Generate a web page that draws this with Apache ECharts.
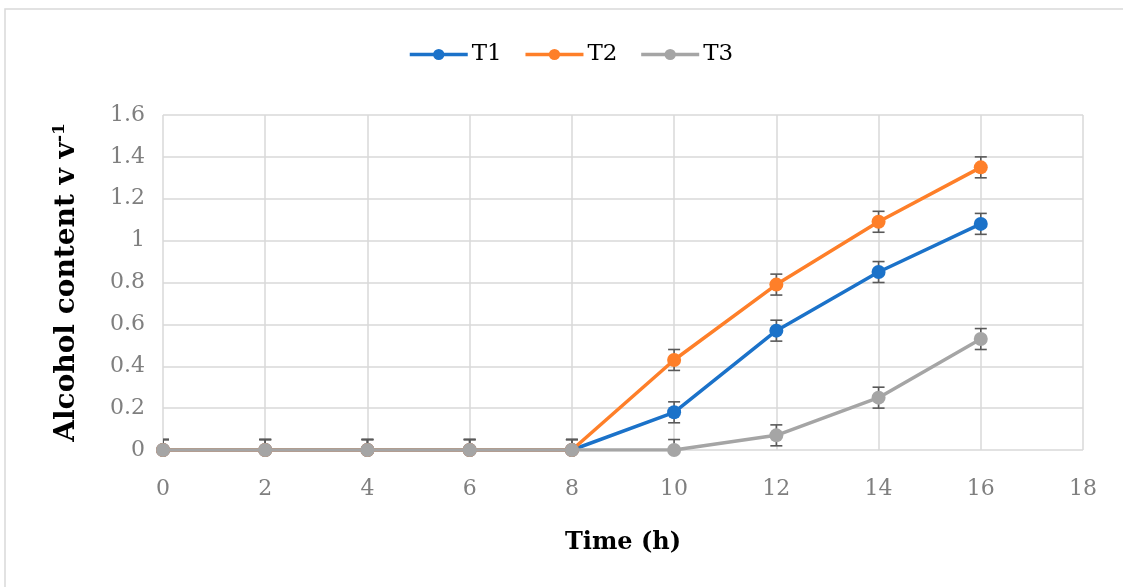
<!DOCTYPE html>
<html>
<head>
<meta charset="utf-8">
<script src="https://cdn.jsdelivr.net/npm/echarts@6/dist/echarts.min.js"></script>
<style>html,body{margin:0;padding:0;background:#fff;}#c{width:1123px;height:587px;}</style>
</head>
<body>
<div id="c"></div>
<script>
var times = [0, 2, 4, 6, 8, 10, 12, 14, 16];
var t1 = [0, 0, 0, 0, 0, 0.18, 0.57, 0.85, 1.08];
var t2 = [0, 0, 0, 0, 0, 0.43, 0.79, 1.09, 1.35];
var t3 = [0, 0, 0, 0, 0, 0, 0.07, 0.25, 0.53];
var errT1 = [0.05, 0.05, 0.05, 0.05, 0.05, 0.05, 0.05, 0.05, 0.05];
var errT2 = [0.05, 0.05, 0.05, 0.05, 0.05, 0.05, 0.05, 0.05, 0.05];
var errT3 = [0.05, 0.05, 0.05, 0.05, 0.05, 0.05, 0.05, 0.05, 0.05];
var names = ['T1', 'T2', 'T3'];
var colors = ['#1b72c9', '#fe7f29', '#a5a5a5'];

var FONT = 'DejaVu Serif';
function pts(v) { return times.map(function (t, i) { return [t, v[i]]; }); }
function errData(v, e) { return times.map(function (t, i) { return [t, v[i], e[i]]; }); }
function errSeries(v, e) {
  return {
    type: 'custom',
    data: errData(v, e),
    clip: true,
    z: 3,
    silent: true,
    encode: { x: 0, y: 1 },
    renderItem: function (params, api) {
      var x = api.value(0), y = api.value(1), er = api.value(2);
      var top = api.coord([x, y + er]);
      var bot = api.coord([x, y - er]);
      var w = 6;
      var st = { stroke: '#595959', lineWidth: 1.6 };
      return {
        type: 'group',
        children: [
          { type: 'line', shape: { x1: top[0], y1: top[1], x2: bot[0], y2: bot[1] }, style: st },
          { type: 'line', shape: { x1: top[0] - w, y1: top[1], x2: top[0] + w, y2: top[1] }, style: st },
          { type: 'line', shape: { x1: bot[0] - w, y1: bot[1], x2: bot[0] + w, y2: bot[1] }, style: st }
        ]
      };
    }
  };
}
function lineSeries(i, v) {
  return {
    name: names[i], type: 'line', data: pts(v),
    symbol: 'circle', symbolSize: 14, z: 4 + i,
    lineStyle: { color: colors[i], width: 3.5 },
    itemStyle: { color: colors[i] },
    emphasis: { disabled: true }
  };
}

var chart = echarts.init(document.getElementById('c'), null, { renderer: 'canvas' });
chart.setOption({
  animation: false,
  backgroundColor: '#fff',
  graphic: [
    { type: 'rect', shape: { x: 5, y: 9, width: 1130, height: 590 }, style: { fill: 'none', stroke: '#d9d9d9', lineWidth: 1.5 }, z: 0 }
  ],
  legend: {
    data: names, top: 38, left: 403, itemWidth: 58, itemHeight: 14, itemGap: 22,
    textStyle: { fontFamily: FONT, fontSize: 23, color: '#000', padding: [0, 0, 0, -1] },
    itemStyle: { borderWidth: 0 },
    lineStyle: { width: 3.5 }
  },
  grid: { left: 163, right: 40, top: 115, bottom: 137 },
  xAxis: {
    type: 'value', min: 0, max: 18, interval: 2,
    name: 'Time (h)', nameLocation: 'middle', nameGap: 81,
    nameTextStyle: { fontFamily: FONT, fontSize: 24, fontWeight: 'bold', color: '#000' },
    axisLine: { show: false },
    axisTick: { show: false },
    axisLabel: { fontFamily: FONT, fontSize: 22, color: '#7f7f7f', margin: 28 },
    splitLine: { show: true, lineStyle: { color: '#d9d9d9', width: 1.5 } }
  },
  yAxis: {
    type: 'value', min: 0, max: 1.6, interval: 0.2,
    name: '{a|Alcohol content v v}{s|-1}', nameLocation: 'middle', nameGap: 80,
    nameTextStyle: {
      rich: {
        a: { fontFamily: FONT, fontSize: 28, fontWeight: 'bold', color: '#000' },
        s: { fontFamily: FONT, fontSize: 17, fontWeight: 'bold', color: '#000', verticalAlign: 'top', padding: [0, 0, 15, 0] }
      }
    },
    axisLine: { show: false },
    axisTick: { show: false },
    axisLabel: { fontFamily: FONT, fontSize: 22, color: '#7f7f7f', margin: 18 },
    splitLine: { show: true, lineStyle: { color: '#d9d9d9', width: 1.5 } }
  },
  series: [
    errSeries(t1, errT1), errSeries(t2, errT2), errSeries(t3, errT3),
    lineSeries(0, t1), lineSeries(1, t2), lineSeries(2, t3)
  ]
});
</script>
</body>
</html>
